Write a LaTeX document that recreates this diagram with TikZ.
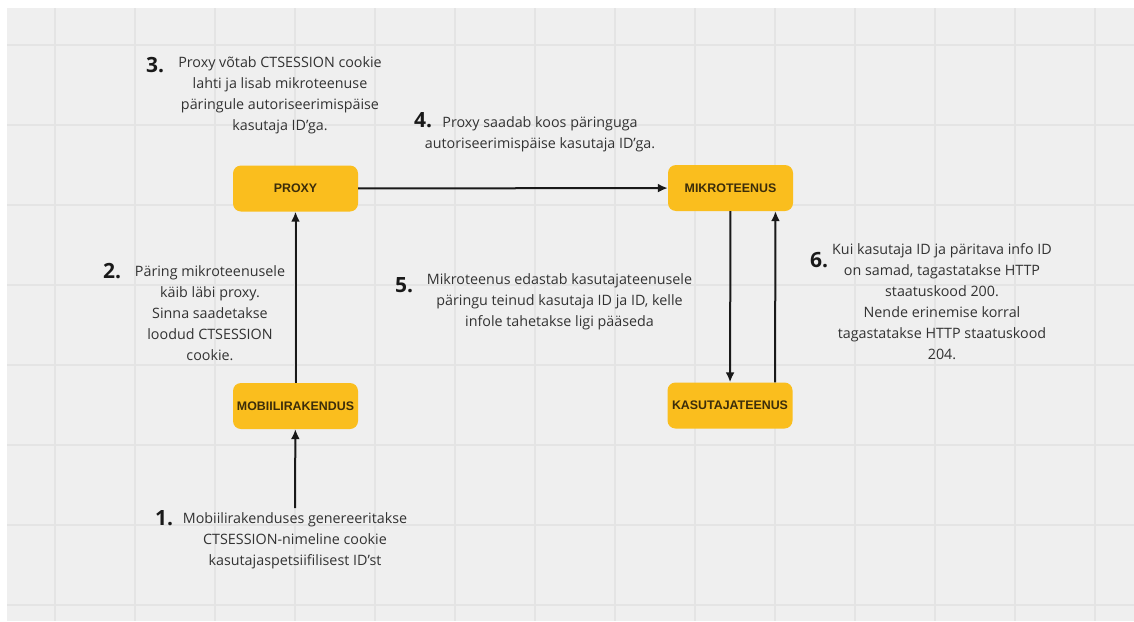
\documentclass[tikz,border=0pt]{standalone}
\usepackage{fontspec}
\setmainfont{Open Sans}
\newfontfamily\boxfont{Liberation Sans}
\usetikzlibrary{arrows.meta}
\definecolor{panel}{RGB}{239,239,239}
\definecolor{gridline}{RGB}{228,228,228}
\definecolor{boxfill}{RGB}{250,190,30}
\definecolor{boxtext}{RGB}{60,45,10}
\definecolor{notetext}{RGB}{50,50,50}
\definecolor{ink}{RGB}{25,25,25}
\begin{document}
\begin{tikzpicture}[x=1pt,y=-1pt,
    service/.style={fill=boxfill, rounded corners=8pt, minimum width=125pt, minimum height=46pt,
        inner sep=0pt, text=boxtext, font=\boxfont\bfseries\fontsize{12.4}{13}\selectfont},
    note/.style={align=center, text=notetext, font=\fontsize{14.3}{21}\selectfont},
    num/.style={anchor=base west, inner sep=0pt, text=ink, font=\bfseries\fontsize{21}{21}\selectfont},
    flow/.style={-{Latex[length=10pt,width=9pt]}, line width=2pt, ink}]
    % canvas
    \useasboundingbox (0,0) rectangle (1134,621);
    \fill[white] (0,0) rectangle (1134,621);
    \fill[panel] (7,8) rectangle (1134,621);
    \foreach \x in {55,135,...,1095} \draw[gridline, line width=1.5pt] (\x,8) -- (\x,621);
    \foreach \y in {45,125,...,605} \draw[gridline, line width=1.5pt] (7,\y) -- (1134,\y);
    % services
    \node[service] (proxy) at (295.5,188.5) {PROXY};
    \node[service] (mikro) at (730.5,188) {MIKROTEENUS};
    \node[service] (mobiil) at (295.5,406) {MOBIILIRAKENDUS};
    \node[service] (kasutaja) at (730,405.5) {KASUTAJATEENUS};
    \coordinate (start) at (295,508);
    % flows
    \draw[flow] (start) -- (mobiil);
    \draw[flow] (mobiil) -- (proxy);
    \draw[flow] (proxy) -- (mikro);
    \draw[flow] (mikro) -- (kasutaja);
    \draw[flow] ([xshift=45pt]kasutaja.north) -- ([xshift=45pt]mikro.south);
    % steps
    \node[num] (n1) at (155,525) {1.};
    \node[note] (t1) at (295,541) {Mobiilirakenduses genereeritakse\\CTSESSION-nimeline cookie\\kasutajaspetsiifilisest ID'st};
    \node[num] (n2) at (103,278) {2.};
    \node[note] (t2) at (210,313) {Päring mikroteenusele\\käib läbi proxy.\\Sinna saadetakse\\loodud CTSESSION\\cookie.};
    \node[num] (n3) at (146,72) {3.};
    \node[note] (t3) at (280,95.5) {Proxy võtab CTSESSION cookie\\lahti ja lisab mikroteenuse\\päringule autoriseerimispäise\\kasutaja ID'ga.};
    \node[num] (n4) at (414,127) {4.};
    \node[note] (t4) at (540,134.5) {Proxy saadab koos päringuga\\autoriseerimispäise kasutaja ID'ga.};
    \node[num] (n5) at (395,292) {5.};
    \node[note] (t5) at (559.5,302) {Mikroteenus edastab kasutajateenusele\\päringu teinud kasutaja ID ja ID, kelle\\infole tahetakse ligi pääseda};
    \node[num] (n6) at (810,267) {6.};
    \node[note] (t6) at (942,301.5) {Kui kasutaja ID ja päritava info ID\\on samad, tagastatakse HTTP\\staatuskood 200.\\Nende erinemise korral\\tagastatakse HTTP staatuskood\\204.};
\end{tikzpicture}
\end{document}
